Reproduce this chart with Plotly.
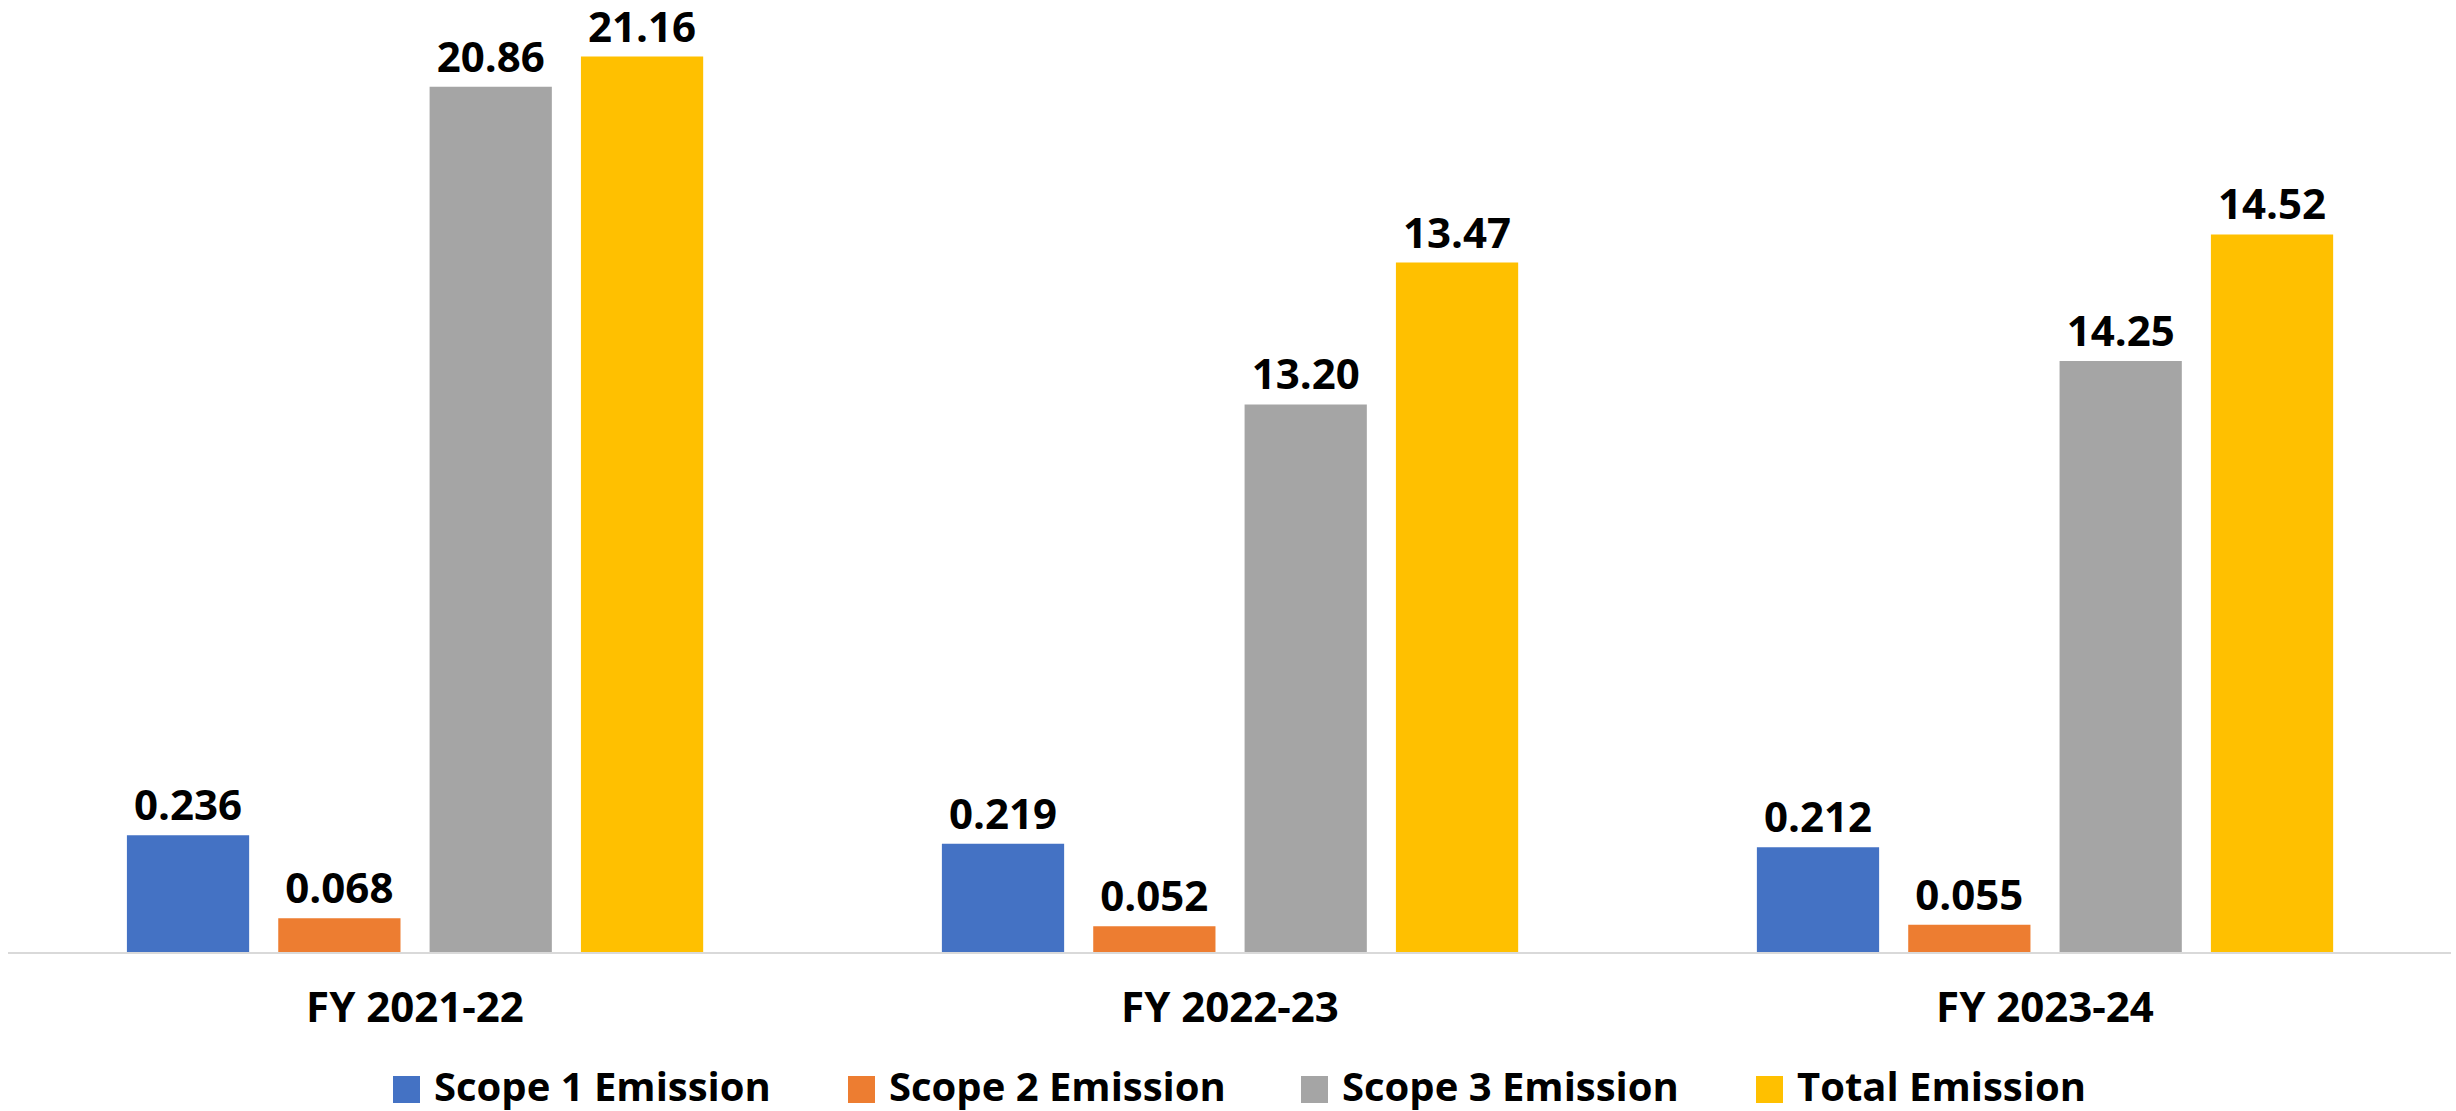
import plotly.graph_objects as go

# ---- data ----
CATEGORIES = ["FY 2021-22", "FY 2022-23", "FY 2023-24"]
SERIES_NAMES = ["Scope 1 Emission", "Scope 2 Emission", "Scope 3 Emission", "Total Emission"]
SCOPE1 = [0.236, 0.219, 0.212]
SCOPE2 = [0.068, 0.052, 0.055]
SCOPE3 = [20.86, 13.20, 14.25]
TOTAL = [21.16, 13.47, 14.52]

# ---- styling / layout constants ----
COLORS = ["#4472C4", "#ED7D31", "#A5A5A5", "#FFC000"]
FONT = "Open Sans"
FIG_W, FIG_H = 2456, 1111
M_L, M_R, M_T, M_B = 8, 5, 0, 159
PLOT_W = FIG_W - M_L - M_R
PLOT_H = FIG_H - M_T - M_B
BAR_W = 0.15
OFFSETS = [-0.3535, -0.1678, 0.0179, 0.2036]
TOTAL_AXIS_FLOOR = -12.27  # floor of the independent axis used by the total series

fig = go.Figure()

def add_bar(i, values, axis, fmt, base=None):
    y = values if base is None else [v - base for v in values]
    fig.add_trace(go.Bar(
        x=CATEGORIES, y=y, base=base, name=SERIES_NAMES[i], yaxis=axis,
        marker=dict(color=COLORS[i], line=dict(width=0)),
        width=BAR_W, offset=OFFSETS[i],
        text=[fmt.format(v) for v in values], texttemplate="%{text}",
        textposition="outside", cliponaxis=False, constraintext="none",
        textfont=dict(family=FONT, size=42, color="#000000", weight=700),
        showlegend=False, hoverinfo="skip",
    ))

add_bar(0, SCOPE1, "y2", "{:.3f}")
add_bar(1, SCOPE2, "y2", "{:.3f}")
add_bar(2, SCOPE3, "y", "{:.2f}")
add_bar(3, TOTAL, "y3", "{:.2f}", base=TOTAL_AXIS_FLOOR)

# custom legend (large square keys), positions in page pixels
LEG_X = [393, 848, 1301, 1756]
LEG_Y0, LEG_Y1 = 1076, 1103
KEY = 27
LEG_TEXT_Y = 1085

def px_x(p):
    return (p - M_L) / PLOT_W

def px_y(p):
    return (M_T + PLOT_H - p) / PLOT_H

shapes = []
annotations = []
for i, name in enumerate(SERIES_NAMES):
    shapes.append(dict(type="rect", xref="paper", yref="paper",
                       x0=px_x(LEG_X[i]), x1=px_x(LEG_X[i] + KEY),
                       y0=px_y(LEG_Y1), y1=px_y(LEG_Y0),
                       fillcolor=COLORS[i], line=dict(width=0)))
    annotations.append(dict(xref="paper", yref="paper",
                            x=px_x(LEG_X[i] + 40), y=px_y(LEG_TEXT_Y),
                            xanchor="left", yanchor="middle", showarrow=False,
                            text=name, borderpad=0,
                            font=dict(family=FONT, size=40, color="#000000", weight=700)))

fig.update_layout(
    width=FIG_W, height=FIG_H,
    margin=dict(l=M_L, r=M_R, t=M_T, b=M_B, pad=0),
    paper_bgcolor="white", plot_bgcolor="white",
    barmode="overlay",
    showlegend=False,
    xaxis=dict(type="category", range=[-0.4994, 2.4982],
               showline=True, linecolor="#D9D9D9", linewidth=2,
               showgrid=False, zeroline=False, ticks="",
               ticklabelstandoff=18,
               tickfont=dict(family=FONT, size=42, color="#000000", weight=700)),
    yaxis=dict(range=[0, 22.95], visible=False, fixedrange=True),
    yaxis2=dict(range=[0, 1.925], overlaying="y", visible=False, fixedrange=True),
    yaxis3=dict(range=[TOTAL_AXIS_FLOOR, 23.27], overlaying="y", visible=False, fixedrange=True),
    shapes=shapes,
    annotations=annotations,
)

fig.write_html("out.html", config={"displayModeBar": False},
               post_script="document.body.style.margin='0';")
